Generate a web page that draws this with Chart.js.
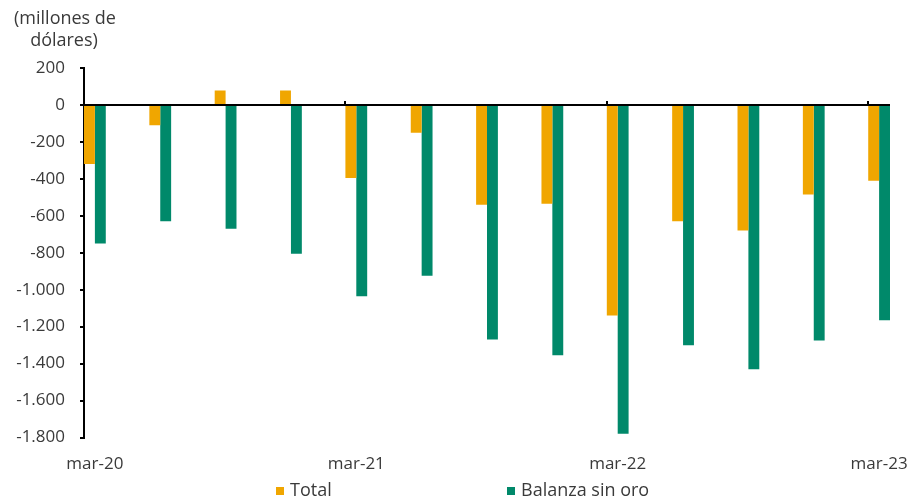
<!DOCTYPE html>
<html>
<head>
<meta charset="utf-8">
<script src="https://cdn.jsdelivr.net/npm/chart.js@4"></script>
<style>
  html, body { margin: 0; padding: 0; background: #fff; }
  #wrap { width: 911px; height: 501px; position: relative; }
</style>
</head>
<body>
<div id="wrap"><canvas id="c" width="911" height="501"></canvas></div>
<script>
// Quarterly observations, March 2020 - March 2023 (millones de dólares)
const quarters = ['mar-20','jun-20','sep-20','dic-20','mar-21','jun-21','sep-21','dic-21','mar-22','jun-22','sep-22','dic-22','mar-23'];
const total = [-320, -110, 78, 78, -395, -150, -540, -535, -1140, -630, -680, -485, -410];
const balanzaSinOro = [-750, -630, -670, -805, -1035, -925, -1270, -1355, -1780, -1300, -1430, -1275, -1165];

// Axis labels shown every twelve months
const xTickMonths = [0, 12, 24, 36];
const xTickLabels = ['mar-20', 'mar-21', 'mar-22', 'mar-23'];
const yTicks = [200, 0, -200, -400, -600, -800, -1000, -1200, -1400, -1600, -1800];

const unitTitle = ['(millones de', 'dólares)'];
const ORANGE = '#F0A600';
const GREEN = '#00896A';
const TEXT = '#3a3a3a';
const FONT = '"Open Sans", "Noto Sans", sans-serif';

// months since mar-20 for each quarter
const monthOf = i => i * 3;
const toPoints = arr => arr.map((v, i) => ({ x: monthOf(i), y: v }));

function fmt(v) {
  const s = Math.abs(v).toString().replace(/\B(?=(\d{3})+(?!\d))/g, '.');
  return (v < 0 ? '-' : '') + s;
}

const decorations = {
  id: 'decorations',
  afterDatasetsDraw(chart) {
    const { ctx, chartArea, scales: { x, y } } = chart;
    const y0 = y.getPixelForValue(0);
    ctx.save();
    // zero line
    ctx.strokeStyle = '#000';
    ctx.lineWidth = 2;
    ctx.beginPath();
    ctx.moveTo(chartArea.left, y0);
    ctx.lineTo(chartArea.right, y0);
    ctx.stroke();
    // yearly tick marks at category boundaries
    xTickMonths.slice(1).forEach(m => {
      const px = Math.round(x.getPixelForValue(m - 0.5));
      ctx.beginPath();
      ctx.moveTo(px, y0);
      ctx.lineTo(px, y0 - 4);
      ctx.stroke();
    });
    ctx.restore();
  },
  afterDraw(chart) {
    const { ctx } = chart;
    ctx.save();
    ctx.fillStyle = TEXT;
    ctx.font = '18px ' + FONT;
    ctx.textAlign = 'center';
    ctx.textBaseline = 'middle';
    ctx.fillText(unitTitle[0], 65, 19);
    ctx.fillText(unitTitle[1], 64, 41);
    // legend
    ctx.textAlign = 'left';
    const items = [
      { label: chart.data.datasets[0].label, color: chart.data.datasets[0].backgroundColor, x: 276 },
      { label: chart.data.datasets[1].label, color: chart.data.datasets[1].backgroundColor, x: 507 }
    ];
    const ly = 491;
    items.forEach(it => {
      ctx.fillStyle = it.color;
      ctx.fillRect(it.x, ly - 4, 8, 8);
      ctx.fillStyle = TEXT;
      ctx.fillText(it.label, it.x + 14, ly);
    });
    ctx.restore();
  }
};

new Chart(document.getElementById('c'), {
  type: 'bar',
  data: {
    datasets: [
      { label: 'Total', data: toPoints(total), backgroundColor: ORANGE, borderWidth: 0 },
      { label: 'Balanza sin oro', data: toPoints(balanzaSinOro), backgroundColor: GREEN, borderWidth: 0 }
    ]
  },
  options: {
    responsive: false,
    animation: false,
    devicePixelRatio: 1,
    layout: { padding: { top: 68, right: 21, bottom: 0, left: 0 } },
    datasets: { bar: { categoryPercentage: 1 / 3, barPercentage: 1, grouped: true } },
    plugins: { legend: { display: false }, tooltip: { enabled: false } },
    scales: {
      x: {
        type: 'linear',
        min: -0.5,
        max: 36.5,
        offset: false,
        grid: { display: false, drawTicks: false },
        border: { display: false },
        afterBuildTicks(scale) { scale.ticks = xTickMonths.map(v => ({ value: v })); },
        afterFit(scale) { scale.height = 63.5; scale.paddingLeft = 0; scale.paddingRight = 0; },
        ticks: {
          padding: 16,
          color: TEXT,
          font: { family: FONT, size: 17 },
          maxRotation: 0,
          autoSkip: false,
          callback: (v) => xTickLabels[xTickMonths.indexOf(v)]
        }
      },
      y: {
        min: -1800,
        max: 200,
        afterBuildTicks(scale) { scale.ticks = yTicks.map(v => ({ value: v })); },
        afterFit(scale) { scale.width = 84; },
        grid: { drawOnChartArea: false, color: '#000', lineWidth: 2, tickLength: 4 },
        border: { color: '#000', width: 2 },
        ticks: {
          padding: 15,
          color: TEXT,
          font: { family: FONT, size: 17 },
          callback: v => fmt(v)
        }
      }
    }
  },
  plugins: [decorations]
});
</script>
</body>
</html>
